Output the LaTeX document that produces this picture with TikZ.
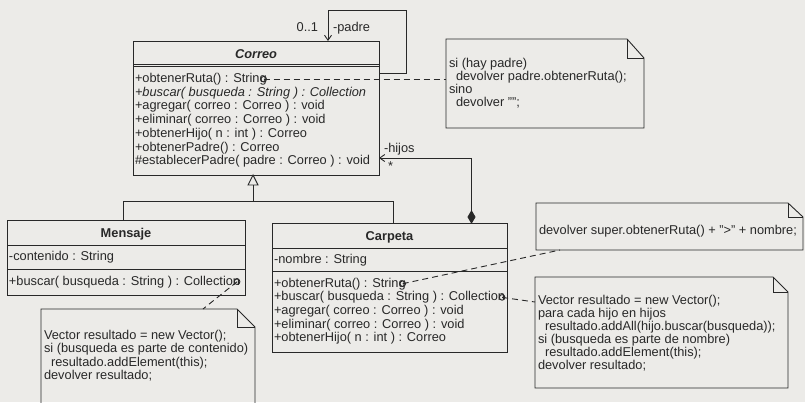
\documentclass[tikz,border=0pt]{standalone}
\usepackage{fontspec}
\setmainfont{Liberation Sans}
\usetikzlibrary{arrows.meta,calc}
\definecolor{paper}{RGB}{236,235,232}
\definecolor{ink}{RGB}{40,40,40}
\begin{document}
\begin{tikzpicture}[x=1pt,y=-1pt,
  every node/.style={inner sep=0pt, outer sep=0pt, text=ink},
  cls/.style={draw=ink, line width=0.9pt, anchor=north west},
  ln/.style={draw=ink, line width=0.9pt},
  txt/.style={anchor=base west, font=\fontsize{12.8}{13.7}\selectfont},
  ttl/.style={anchor=base, font=\fontsize{12.8}{13.7}\selectfont\bfseries},
  notebox/.style={anchor=north west},
  noteline/.style={draw=ink, line width=0.9pt},
  anchorline/.style={draw=ink, line width=0.9pt, dash pattern=on 6pt off 4pt},
  knob/.style={draw=ink, line width=0.9pt},
  assoc/.style={draw=ink, line width=0.9pt, -{Straight Barb[length=5pt,width=7pt]}}
]
\fill[paper] (0,0) rectangle (805,402);
\clip (0,0) rectangle (805,402);

% ---------- Correo ----------
\node[cls, minimum width=246pt, minimum height=134pt] (correo) at (133,41) {};
\node[ttl, font=\fontsize{12.8}{13.7}\selectfont\bfseries\itshape] (correoname) at (256,58) {Correo};
\draw[ln] ([yshift=-23pt]correo.north west) -- ([yshift=-23pt]correo.north east);
\draw[ln] ([yshift=-25.5pt]correo.north west) -- ([yshift=-25.5pt]correo.north east);
\node[txt] (c1) at (135,82.5) {+obtenerRuta() : String};
\node[txt] (c2) at (135,96.2) {\itshape +buscar( busqueda : String ) : Collection};
\node[txt] (c3) at (135,109.9) {+agregar( correo : Correo ) : void};
\node[txt] (c4) at (135,123.6) {+eliminar( correo : Correo ) : void};
\node[txt] (c5) at (135,137.3) {+obtenerHijo( n : int ) : Correo};
\node[txt] (c6) at (135,151) {+obtenerPadre() : Correo};
\node[txt] (c7) at (135,164.7) {\#establecerPadre( padre : Correo ) : void};

% ---------- Mensaje ----------
\node[cls, minimum width=238pt, minimum height=75pt] (mensaje) at (7,220) {};
\node[ttl] (mensajename) at (126,237) {Mensaje};
\draw[ln] ([yshift=-25pt]mensaje.north west) -- ([yshift=-25pt]mensaje.north east);
\draw[ln] ([yshift=-49pt]mensaje.north west) -- ([yshift=-49pt]mensaje.north east);
\node[txt] (m1) at (9,260.5) {-contenido : String};
\node[txt] (m2) at (9,285) {+buscar( busqueda : String ) : Collection};

% ---------- Carpeta ----------
\node[cls, minimum width=235pt, minimum height=129pt] (carpeta) at (272,223) {};
\node[ttl] (carpetaname) at (389.5,240) {Carpeta};
\draw[ln] ([yshift=-25pt]carpeta.north west) -- ([yshift=-25pt]carpeta.north east);
\draw[ln] ([yshift=-48pt]carpeta.north west) -- ([yshift=-48pt]carpeta.north east);
\node[txt] (k0) at (274,263) {-nombre : String};
\node[txt] (k1) at (274,287) {+obtenerRuta() : String};
\node[txt] (k2) at (274,300.7) {+buscar( busqueda : String ) : Collection};
\node[txt] (k3) at (274,314.4) {+agregar( correo : Correo ) : void};
\node[txt] (k4) at (274,328.1) {+eliminar( correo : Correo ) : void};
\node[txt] (k5) at (274,341.8) {+obtenerHijo( n : int ) : Correo};

% ---------- Note 1 ----------
\node[notebox, minimum width=198pt, minimum height=89pt] (note1) at (446,39) {};
\draw[noteline] (note1.north west) -- ([xshift=-17pt]note1.north east) -- ([yshift=-19pt]note1.north east) -- (note1.south east) -- (note1.south west) -- cycle;
\draw[noteline] ([xshift=-17pt]note1.north east) -- ([xshift=-17pt,yshift=-19pt]note1.north east) -- ([yshift=-19pt]note1.north east);
\node[txt] (n1a) at (449,67.5) {si (hay padre)};
\node[txt] (n1b) at (456,80.5) {devolver padre.obtenerRuta();};
\node[txt] (n1c) at (449,93.5) {sino};
\node[txt] (n1d) at (456,106.5) {devolver "";};

% ---------- Note 2 ----------
\node[notebox, minimum width=267pt, minimum height=47pt] (note2) at (536,203) {};
\draw[noteline] (note2.north west) -- ([xshift=-15pt]note2.north east) -- ([yshift=-14pt]note2.north east) -- (note2.south east) -- (note2.south west) -- cycle;
\draw[noteline] ([xshift=-15pt]note2.north east) -- ([xshift=-15pt,yshift=-14pt]note2.north east) -- ([yshift=-14pt]note2.north east);
\node[txt] (n2a) at (539,234.5) {devolver super.obtenerRuta() + ">" + nombre;};

% ---------- Note 3 ----------
\node[notebox, minimum width=253pt, minimum height=111pt] (note3) at (535,277) {};
\draw[noteline] (note3.north west) -- ([xshift=-15pt]note3.north east) -- ([yshift=-15pt]note3.north east) -- (note3.south east) -- (note3.south west) -- cycle;
\draw[noteline] ([xshift=-15pt]note3.north east) -- ([xshift=-15pt,yshift=-15pt]note3.north east) -- ([yshift=-15pt]note3.north east);
\node[txt] (n3a) at (538,304.5) {Vector resultado = new Vector();};
\node[txt] (n3b) at (538,317.5) {para cada hijo en hijos};
\node[txt] (n3c) at (545,330.5) {resultado.addAll(hijo.buscar(busqueda));};
\node[txt] (n3d) at (538,343.5) {si (busqueda es parte de nombre)};
\node[txt] (n3e) at (545,356.5) {resultado.addElement(this);};
\node[txt] (n3f) at (538,369.5) {devolver resultado;};

% ---------- Note 4 ----------
\node[notebox, minimum width=214pt, minimum height=101pt] (note4) at (41,309) {};
\draw[noteline] (note4.north west) -- ([xshift=-18pt]note4.north east) -- ([yshift=-18pt]note4.north east) -- (note4.south east) -- (note4.south west) -- cycle;
\draw[noteline] ([xshift=-18pt]note4.north east) -- ([xshift=-18pt,yshift=-18pt]note4.north east) -- ([yshift=-18pt]note4.north east);
\node[txt] (n4a) at (44,339) {Vector resultado = new Vector();};
\node[txt] (n4b) at (44,352.5) {si (busqueda es parte de contenido)};
\node[txt] (n4c) at (51,366) {resultado.addElement(this);};
\node[txt] (n4d) at (44,379.5) {devolver resultado;};

% ---------- note anchors ----------
\coordinate (a1) at ([xshift=-3pt]c1.east);
\coordinate (a2) at ([xshift=-3pt]k1.east);
\coordinate (a3) at ([xshift=-3pt]k2.east);
\coordinate (a4) at ([xshift=-3pt]m2.east);
\draw[knob] (a1) circle (2.8pt);
\draw[knob] (a2) circle (2.8pt);
\draw[knob] (a3) circle (2.8pt);
\draw[knob] (a4) circle (2.8pt);
\draw[anchorline] (a1) -- (note1.west |- a1);
\draw[anchorline] (a2) -- ([xshift=24pt]note2.south west);
\draw[anchorline] (a3) -- ([yshift=-25pt]note3.north west);
\draw[anchorline] (a4) -- ([xshift=162pt]note4.north west);

% ---------- generalization ----------
\coordinate (gtri) at (253,185);
\coordinate (gjoin) at (253,201);
\draw[ln, fill=paper] (correo.south -| gtri) -- ([xshift=-5pt]gtri) -- ([xshift=5pt]gtri) -- cycle;
\draw[ln] (gtri) -- (gjoin);
\draw[ln] (gjoin) -- (gjoin -| 123,0) -- (mensaje.north -| 123,0);
\draw[ln] (gjoin) -- (gjoin -| 393,0) -- (carpeta.north -| 393,0);

% ---------- composition hijos ----------
\coordinate (hbend) at (471.5,158);
\draw[ln, fill=ink] (carpeta.north -| hbend) -- ++(-3.5,-6) -- ++(3.5,-6) -- ++(3.5,6) -- cycle;
\draw[assoc] ([yshift=12pt]carpeta.north -| hbend) -- (hbend) -- (correo.east |- hbend);
\node[txt] (hijos) at (384,152) {-hijos};
\node[txt] (mult) at (388,170) {*};

% ---------- self association padre ----------
\coordinate (p1) at (406,10);
\coordinate (p2) at (328,10);
\draw[assoc] (correo.east |- 0,73) -- (p1 |- 0,73) -- (p1) -- (p2) -- (correo.north -| p2);
\node[txt, anchor=base east] (zeroone) at (318,31.5) {0..1};
\node[txt] (padre) at (333,31.5) {-padre};
\end{tikzpicture}
\end{document}
